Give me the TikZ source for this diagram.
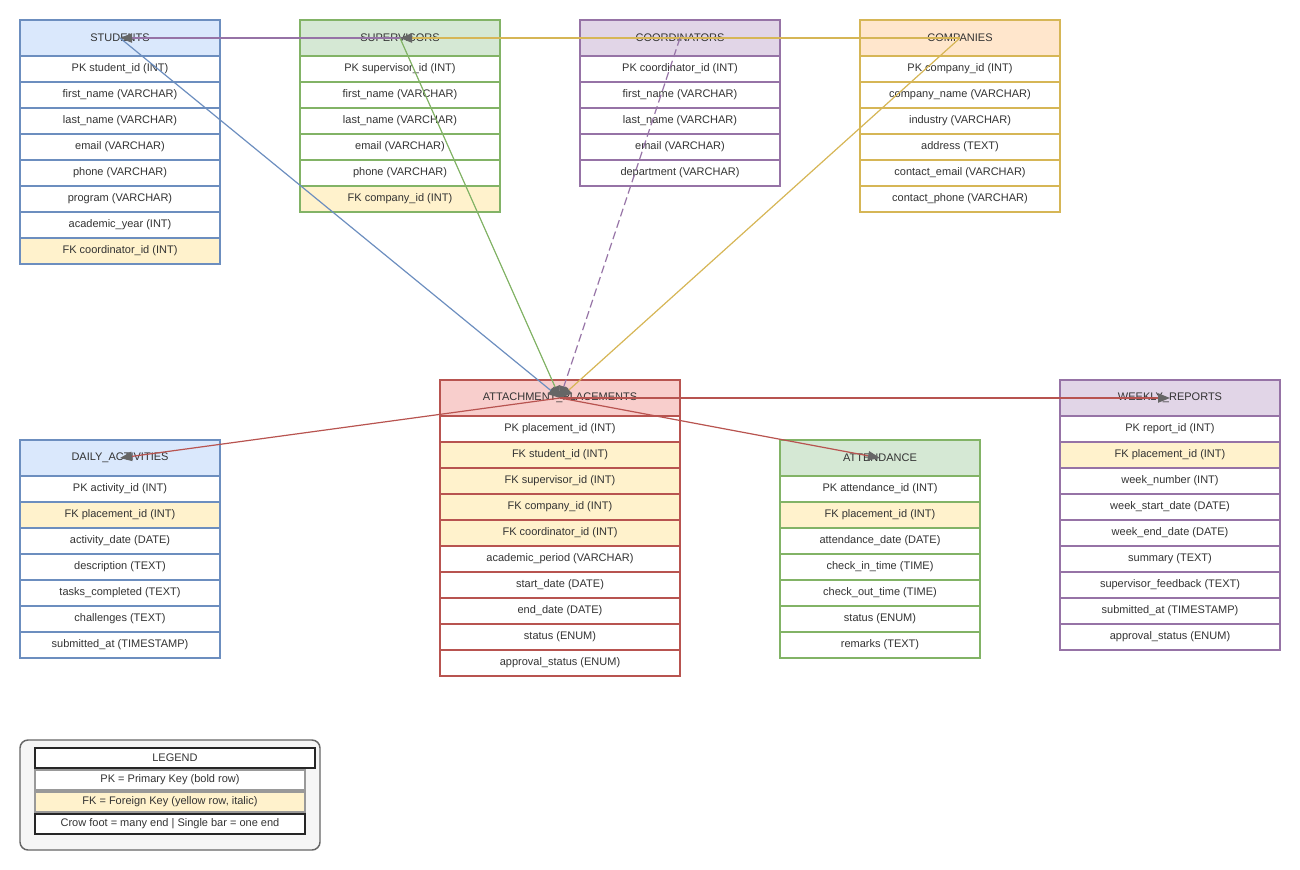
\documentclass[tikz,border=0pt]{standalone}
\usepackage{fontspec}
\setmainfont{Liberation Sans}
\usetikzlibrary{arrows.meta}

\definecolor{bluefill}{HTML}{DAE8FC}\definecolor{blueline}{HTML}{6C8EBF}
\definecolor{greenfill}{HTML}{D5E8D4}\definecolor{greenline}{HTML}{82B366}
\definecolor{purplefill}{HTML}{E1D5E7}\definecolor{purpleline}{HTML}{9673A6}
\definecolor{orangefill}{HTML}{FFE6CC}\definecolor{orangeline}{HTML}{D6B656}
\definecolor{redfill}{HTML}{F8CECC}\definecolor{redline}{HTML}{B85450}
\definecolor{fkfill}{HTML}{FFF2CC}
\definecolor{txtgray}{HTML}{333333}
\definecolor{tipgray}{HTML}{666666}
\definecolor{legfill}{HTML}{F5F5F5}

\begin{document}
\begin{tikzpicture}[x=0.75pt, y=-0.75pt
        , every node/.style={ text=txtgray, font=\fontsize{8.25}{10}\selectfont, inner sep=0pt, outer sep=0pt }
        , head/.style={ draw=#1line, fill=#1fill, line width=1.1pt, minimum height=27pt }
        , row/.style={ draw=#1line, line width=1.1pt, minimum height=19.5pt }
        , rel/.style={ line width=0.9pt, -{Triangle[length=9pt, width=7pt, color=tipgray]} }
        , legrow/.style={ draw=#1, line width=1.1pt, minimum width=202.5pt, minimum height=15pt }
        ]

        \useasboundingbox (0,0) rectangle (1300,870);

        % top row of tables
        \node[head=blue, minimum width=150pt] (stu) at (120,38) {STUDENTS};
        \foreach \fld/\f [count=\i] in {PK student\_id (INT)/white, first\_name (VARCHAR)/white,
                last\_name (VARCHAR)/white, email (VARCHAR)/white, phone (VARCHAR)/white,
                program (VARCHAR)/white, academic\_year (INT)/white, FK coordinator\_id (INT)/fkfill}
            \node[row=blue, fill=\f, minimum width=150pt] (stu\i) at (120,43+26*\i) {\fld};

        \node[head=green, minimum width=150pt] (sup) at (400,38) {SUPERVISORS};
        \foreach \fld/\f [count=\i] in {PK supervisor\_id (INT)/white, first\_name (VARCHAR)/white,
                last\_name (VARCHAR)/white, email (VARCHAR)/white, phone (VARCHAR)/white,
                FK company\_id (INT)/fkfill}
            \node[row=green, fill=\f, minimum width=150pt] (sup\i) at (400,43+26*\i) {\fld};

        \node[head=purple, minimum width=150pt] (coo) at (680,38) {COORDINATORS};
        \foreach \fld/\f [count=\i] in {PK coordinator\_id (INT)/white, first\_name (VARCHAR)/white,
                last\_name (VARCHAR)/white, email (VARCHAR)/white, department (VARCHAR)/white}
            \node[row=purple, fill=\f, minimum width=150pt] (coo\i) at (680,43+26*\i) {\fld};

        \node[head=orange, minimum width=150pt] (com) at (960,38) {COMPANIES};
        \foreach \fld/\f [count=\i] in {PK company\_id (INT)/white, company\_name (VARCHAR)/white,
                industry (VARCHAR)/white, address (TEXT)/white, contact\_email (VARCHAR)/white,
                contact\_phone (VARCHAR)/white}
            \node[row=orange, fill=\f, minimum width=150pt] (com\i) at (960,43+26*\i) {\fld};

        % bottom row of tables
        \node[head=red, minimum width=180pt] (pla) at (560,398) {ATTACHMENT\_PLACEMENTS};
        \foreach \fld/\f [count=\i] in {PK placement\_id (INT)/white, FK student\_id (INT)/fkfill,
                FK supervisor\_id (INT)/fkfill, FK company\_id (INT)/fkfill,
                FK coordinator\_id (INT)/fkfill, academic\_period (VARCHAR)/white,
                start\_date (DATE)/white, end\_date (DATE)/white, status (ENUM)/white,
                approval\_status (ENUM)/white}
            \node[row=red, fill=\f, minimum width=180pt] (pla\i) at (560,403+26*\i) {\fld};

        \node[head=blue, minimum width=150pt] (day) at (120,458) {DAILY\_ACTIVITIES};
        \foreach \fld/\f [count=\i] in {PK activity\_id (INT)/white, FK placement\_id (INT)/fkfill,
                activity\_date (DATE)/white, description (TEXT)/white,
                tasks\_completed (TEXT)/white, challenges (TEXT)/white,
                submitted\_at (TIMESTAMP)/white}
            \node[row=blue, fill=\f, minimum width=150pt] (day\i) at (120,463+26*\i) {\fld};

        \node[head=green, minimum width=150pt] (att) at (880,458) {ATTENDANCE};
        \foreach \fld/\f [count=\i] in {PK attendance\_id (INT)/white, FK placement\_id (INT)/fkfill,
                attendance\_date (DATE)/white, check\_in\_time (TIME)/white,
                check\_out\_time (TIME)/white, status (ENUM)/white, remarks (TEXT)/white}
            \node[row=green, fill=\f, minimum width=150pt] (att\i) at (880,463+26*\i) {\fld};

        \node[head=purple, minimum width=165pt] (wee) at (1170,398) {WEEKLY\_REPORTS};
        \foreach \fld/\f [count=\i] in {PK report\_id (INT)/white, FK placement\_id (INT)/fkfill,
                week\_number (INT)/white, week\_start\_date (DATE)/white,
                week\_end\_date (DATE)/white, summary (TEXT)/white,
                supervisor\_feedback (TEXT)/white, submitted\_at (TIMESTAMP)/white,
                approval\_status (ENUM)/white}
            \node[row=purple, fill=\f, minimum width=165pt] (wee\i) at (1170,403+26*\i) {\fld};

        % relations
        \draw[rel, purpleline] (coo.center) -- (stu.center);
        \draw[rel, orangeline] (com.center) -- (sup.center);
        \draw[rel, blueline] (stu.center) -- (pla.center);
        \draw[rel, greenline] (sup.center) -- (pla.center);
        \draw[rel, purpleline, dash pattern=on 6pt off 3pt] (coo.center) -- (pla.center);
        \draw[rel, orangeline] (com.center) -- (pla.center);
        \draw[rel, redline] (pla.center) -- (day.center);
        \draw[rel, redline] (pla.center) -- (att.center);
        \draw[rel, redline] (pla.center) -- (wee.center);

        % legend
        \node[draw=tipgray, fill=legfill, line width=1.1pt, rounded corners=6pt,
            minimum width=225pt, minimum height=82.5pt] (legend) at (170,795) {};
        \node[legrow=black!85, minimum width=210pt, fill=white] (leghead) at (175,758) {LEGEND};
        \node[legrow=gray!80, fill=white] (legpk) at (170,780) {PK = Primary Key (bold row)};
        \node[legrow=gray!80, fill=fkfill] (legfk) at (170,802) {FK = Foreign Key (yellow row, italic)};
        \node[legrow=black!85, fill=white] (legcrow) at (170,824) {Crow foot = many end | Single bar = one end};

    \end{tikzpicture}
\end{document}
